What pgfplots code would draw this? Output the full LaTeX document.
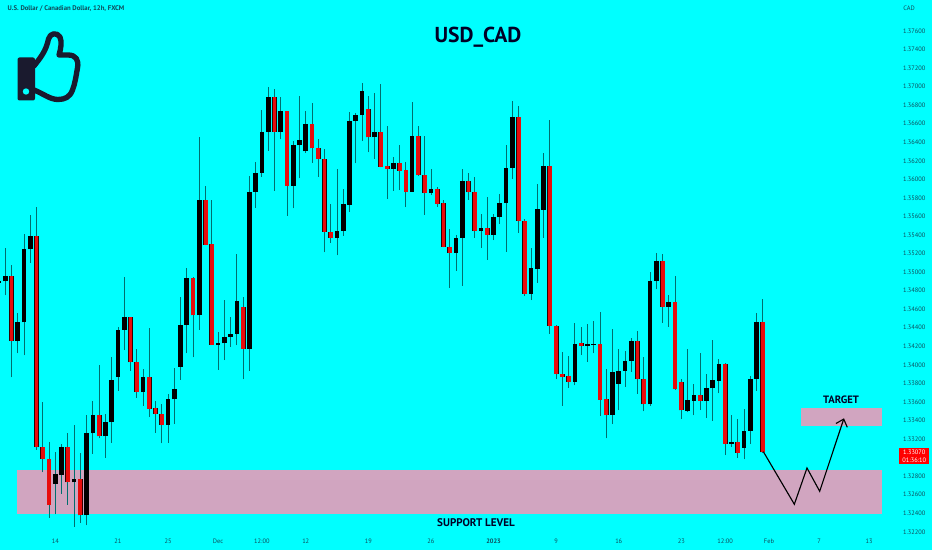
\documentclass[border=0pt]{standalone}
\usepackage{fontspec}
\setmainfont{PT Sans}
\usepackage{pgfplots}
\usepackage{pgfplotstable}
\pgfplotsset{compat=1.18}
\usetikzlibrary{arrows.meta}

\definecolor{bgcyan}{RGB}{0,255,255}
\definecolor{zone}{RGB}{209,165,192}
\definecolor{candlered}{RGB}{232,12,12}
\definecolor{wick}{RGB}{0,110,110}
\definecolor{axistext}{RGB}{15,75,90}
\definecolor{thumb}{RGB}{26,26,46}

% USD/CAD 12h candles: i low bot top high
\pgfplotstableread{
i low bot top high
0 1.34872 1.34883 1.34904 1.34915
1 1.34750 1.34901 1.34961 1.35257
3 1.34125 1.34261 1.34459 1.34556
4 1.34103 1.34459 1.35249 1.35411
5 1.35102 1.35249 1.35389 1.35613
9 1.32389 1.32719 1.32820 1.33057
10 1.32608 1.32816 1.33118 1.33147
12 1.32255 1.32734 1.32769 1.33348
14 1.32270 1.32378 1.33262 1.33456
15 1.33042 1.33262 1.33456 1.33610
17 1.32999 1.33230 1.33381 1.33467
18 1.33161 1.33381 1.33840 1.34082
19 1.33721 1.33872 1.34379 1.34405
20 1.34160 1.34379 1.34513 1.34951
23 1.33556 1.33707 1.33866 1.33952
27 1.33161 1.33352 1.33629 1.33686
28 1.33362 1.33629 1.33743 1.33970
29 1.33837 1.33980 1.34433 1.34729
30 1.34125 1.34430 1.34937 1.35041
32 1.34376 1.34534 1.35778 1.36454
35 1.33945 1.34214 1.34236 1.34351
36 1.34052 1.34232 1.34301 1.34699
37 1.34196 1.34301 1.34333 1.34519
38 1.34214 1.34333 1.34692 1.35195
40 1.33937 1.34174 1.35867 1.36036
41 1.35695 1.35867 1.36072 1.36187
42 1.36029 1.36072 1.36511 1.36748
43 1.36309 1.36511 1.36885 1.36993
45 1.36432 1.36514 1.36737 1.36885
47 1.35688 1.35929 1.36367 1.36417
48 1.36012 1.36367 1.36421 1.36902
49 1.36288 1.36303 1.36600 1.36740
54 1.35181 1.35368 1.35447 1.36115
55 1.35393 1.35447 1.35731 1.35893
56 1.35652 1.35727 1.36629 1.36730
57 1.36173 1.36629 1.36694 1.36712
58 1.36414 1.36694 1.36953 1.37042
60 1.36223 1.36454 1.36511 1.36935
63 1.35878 1.36112 1.36180 1.36245
66 1.35867 1.35867 1.36468 1.36837
69 1.35835 1.35853 1.35893 1.36112
73 1.35015 1.35206 1.35368 1.35400
74 1.34854 1.35368 1.35979 1.36112
77 1.35263 1.35447 1.35476 1.35627
79 1.35346 1.35403 1.35591 1.35627
80 1.35519 1.35591 1.35748 1.35842
81 1.35220 1.35745 1.36126 1.36371
82 1.36007 1.36123 1.36669 1.36848
85 1.34699 1.34764 1.35041 1.35263
86 1.34886 1.35037 1.35677 1.35950
87 1.35371 1.35673 1.36144 1.36281
92 1.33780 1.33818 1.34228 1.34448
94 1.34034 1.34207 1.34222 1.34441
95 1.34125 1.34217 1.34228 1.34476
98 1.33362 1.33463 1.33923 1.34387
99 1.33513 1.33797 1.33934 1.34174
100 1.33765 1.33934 1.34045 1.34153
101 1.33923 1.34042 1.34261 1.34286
104 1.33560 1.33575 1.34907 1.34998
105 1.34815 1.34907 1.35123 1.35203
107 1.34412 1.34624 1.34678 1.34753
110 1.33495 1.33506 1.33618 1.34168
111 1.33456 1.33614 1.33675 1.33794
113 1.33427 1.33614 1.33747 1.33902
114 1.33395 1.33747 1.33834 1.34268
115 1.33693 1.33829 1.34013 1.34063
117 1.33118 1.33150 1.33165 1.33456
119 1.32982 1.33104 1.33287 1.33524
120 1.33147 1.33287 1.33851 1.33880
121 1.33721 1.33848 1.34459 1.34556
}\upcandles

\pgfplotstableread{
i low bot top high
2 1.33866 1.34261 1.34961 1.35074
6 1.33082 1.33112 1.35389 1.35699
7 1.32842 1.32985 1.33112 1.33600
8 1.32352 1.32492 1.32985 1.33165
11 1.32492 1.32734 1.33118 1.33262
13 1.32298 1.32378 1.32769 1.33050
16 1.33208 1.33230 1.33456 1.34002
21 1.33937 1.34028 1.34513 1.34519
22 1.33646 1.33707 1.34028 1.34174
24 1.33441 1.33527 1.33866 1.34394
25 1.33269 1.33470 1.33532 1.33614
26 1.33154 1.33352 1.33474 1.33578
31 1.34082 1.34534 1.34937 1.34951
33 1.35289 1.35296 1.35778 1.35929
34 1.34214 1.34217 1.35300 1.35778
39 1.33844 1.34174 1.34627 1.34729
44 1.35878 1.36514 1.36885 1.36978
46 1.35608 1.35929 1.36737 1.36740
50 1.36180 1.36335 1.36600 1.36820
51 1.36029 1.36220 1.36335 1.36432
52 1.35214 1.35436 1.36220 1.36324
53 1.35317 1.35368 1.35436 1.35735
59 1.36292 1.36454 1.36756 1.36899
61 1.36130 1.36137 1.36511 1.37028
62 1.35792 1.36112 1.36141 1.36572
64 1.35885 1.36093 1.36180 1.36374
65 1.35702 1.35867 1.36098 1.36187
67 1.36036 1.36047 1.36468 1.36575
68 1.35619 1.35853 1.36047 1.36468
70 1.35705 1.35738 1.35893 1.35921
71 1.35268 1.35274 1.35742 1.35778
72 1.34832 1.35206 1.35274 1.35465
75 1.35778 1.35861 1.35979 1.36072
76 1.35371 1.35447 1.35861 1.36029
78 1.35131 1.35403 1.35476 1.35807
83 1.35425 1.35554 1.36669 1.36791
84 1.34742 1.34764 1.35554 1.35570
88 1.34333 1.34422 1.36144 1.36640
89 1.33844 1.33905 1.34422 1.34430
90 1.33560 1.33872 1.33905 1.34142
91 1.33754 1.33818 1.33877 1.34096
93 1.34106 1.34207 1.34232 1.34412
96 1.33449 1.33624 1.34228 1.34567
97 1.33208 1.33463 1.33629 1.33952
102 1.33686 1.33851 1.34261 1.34362
103 1.33499 1.33575 1.33851 1.34088
106 1.34455 1.34624 1.35123 1.35192
108 1.33729 1.33743 1.34678 1.34958
109 1.33416 1.33510 1.33812 1.33851
112 1.33513 1.33614 1.33675 1.34125
116 1.33028 1.33150 1.34013 1.34023
118 1.32999 1.33053 1.33165 1.33413
122 1.33050 1.33057 1.34459 1.34707
}\downcandles

\begin{document}
\begin{tikzpicture}[x=1pt,y=1pt]
% page: 932x550 px at 0.75pt per px
\fill[bgcyan] (0,0) rectangle (699pt,412.5pt);
\useasboundingbox (0,0) rectangle (699pt,412.5pt);

\begin{axis}[
  at={(0pt,12.75pt)}, anchor=south west,
  scale only axis,
  width=672.75pt, height=399.75pt,
  xmin=0.16, xmax=143.45,
  ymin=1.32187, ymax=1.37934,
  axis line style={draw=none},
  major tick length=0pt,
  ytick pos=right,
  yticklabel pos=right,
  xtick={9,19,27,35,42,49,59,69,79,89,99,109,116,123,131,139},
  xticklabels={14,21,25,Dec,12:00,12,19,26,\textbf{2023},9,16,23,12:00,Feb,7,13},
  ytick={1.322,1.324,1.326,1.328,1.332,1.334,1.336,1.338,1.340,1.342,1.344,1.346,1.348,1.350,1.352,1.354,1.356,1.358,1.360,1.362,1.364,1.366,1.368,1.370,1.372,1.374,1.376},
  scaled y ticks=false,
  /pgf/number format/assume math mode=true,
  yticklabel style={/pgf/number format/fixed, /pgf/number format/fixed zerofill, /pgf/number format/precision=5,
    font=\fontsize{4.8}{5}\selectfont, text=axistext, anchor=west, xshift=1pt},
  xticklabel style={font=\fontsize{4.8}{5}\selectfont, text=axistext, anchor=center, yshift=-6.5pt},
  candle/.style={draw=none, mark=none, forget plot, error bars/.cd, y dir=plus, y explicit, error mark=none},
]
% support and target zones
\addplot[fill=zone, draw=none, forget plot] coordinates {(2.955,1.32397) (141.1,1.32397) (141.1,1.32866) (2.955,1.32866)} --cycle;
\addplot[fill=zone, draw=none, forget plot] coordinates {(128.1,1.33344) (141.1,1.33344) (141.1,1.33532) (128.1,1.33532)} --cycle;

% wicks
\addplot[candle, error bar style={draw=wick, line width=0.65pt}]
  table[x=i, y=low, y error plus expr=\thisrow{high}-\thisrow{low}] {\upcandles};
\addplot[candle, error bar style={draw=wick, line width=0.65pt}]
  table[x=i, y=low, y error plus expr=\thisrow{high}-\thisrow{low}] {\downcandles};

% bodies
\addplot[candle, error bar style={draw=black, line width=3.5pt}]
  table[x=i, y=bot, y error plus expr=\thisrow{top}-\thisrow{bot}] {\upcandles};
\addplot[candle, error bar style={draw=black!80!red, line width=3.6pt}]
  table[x=i, y=bot, y error plus expr=\thisrow{top}-\thisrow{bot}] {\downcandles};
\addplot[candle, error bar style={draw=candlered, line width=2.9pt}]
  table[x=i, y=bot, y error plus expr=\thisrow{top}-\thisrow{bot}] {\downcandles};

% projected path
\addplot[black, line width=0.85pt, -{Straight Barb[length=5pt,width=9pt]}] coordinates {(122.1,1.33064) (127.05,1.32497) (129.07,1.32888) (131.1,1.32637) (134.98,1.33424)};
\end{axis}

% annotations and the thumb, in reference pixels
\begin{scope}[x=0.75pt,y=-0.75pt,yshift=412.5pt]
\node[anchor=west, text=axistext, font=\fontsize{5.05}{6}\selectfont\bfseries] at (3,9) {U.S. Dollar / Canadian Dollar, 12h, FXCM};
\node[text=axistext, font=\fontsize{4.8}{5}\selectfont] at (909,8) {CAD};
\node[font=\fontsize{16.2}{18}\selectfont\bfseries, text=black!85!blue] at (478,37) {USD\_CAD};
\node[font=\fontsize{8}{9}\selectfont\bfseries, text=black!85!blue] at (841,400) {TARGET};
\node[font=\fontsize{8.3}{9}\selectfont\bfseries, text=black!85!blue] at (476,523) {SUPPORT LEVEL};
\fill[red] (899.3,447.7) rectangle (929.3,464);
\node[text=white, font=\fontsize{4.8}{5}\selectfont] at (914.3,452) {1.33070};
\node[text=white, font=\fontsize{4.8}{5}\selectfont] at (914.3,460) {01:36:10};
% thumb icon
\fill[thumb, rounded corners=1.5pt] (17.5,57.5) rectangle (35,100.5);
\fill[bgcyan] (26,91.5) circle (3.2);
\draw[thumb, line width=4pt, line join=round, line cap=round]
  (34,66) .. controls (41,57) and (46,51) .. (48.5,39)
  .. controls (50,33) and (57,32) .. (60,37)
  .. controls (62,42) and (61,48) .. (59,55)
  -- (68,55)
  .. controls (76,55) and (79,60) .. (77.5,68)
  .. controls (76,76) and (75,84) .. (72.5,90)
  .. controls (70,97) and (65,99.5) .. (58,99.5)
  .. controls (50,99.5) and (44,94) .. (34,90);
\end{scope}
\end{tikzpicture}
\end{document}
